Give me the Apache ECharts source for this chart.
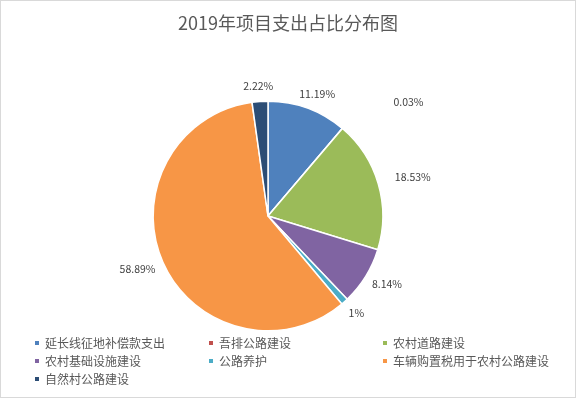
<!DOCTYPE html>
<html>
<head>
<meta charset="utf-8">
<script src="https://cdn.jsdelivr.net/npm/echarts@6/dist/echarts.min.js"></script>
<style>
    html, body { margin: 0; padding: 0; background: #fff; }
    #chart { width: 576px; height: 398px; box-sizing: border-box; border: 1px solid #d9d9d9; }
</style>
</head>
<body>
<div id="chart"></div>
<script>
    // 数据
    var categories = ['延长线征地补偿款支出', '吾排公路建设', '农村道路建设', '农村基础设施建设', '公路养护', '车辆购置税用于农村公路建设', '自然村公路建设'];
    var shares = [11.19, 0.03, 18.53, 8.14, 1, 58.89, 2.22];
    var colors = ['#4F81BD', '#C0504D', '#9BBB59', '#8064A2', '#4BACC6', '#F79646', '#2C4D75'];

    var fontFamily = '"Noto Sans CJK SC", "Microsoft YaHei", sans-serif';

    // 个别标签在原图中离饼图更远
    var labelLines = {
        '吾排公路建设': { length: 30, length2: 37 },
        '农村道路建设': { length: 18, length2: 0 }
    };

    var data = categories.map(function (name, i) {
        var item = { name: name, value: shares[i] };
        if (labelLines[name]) {
            item.labelLine = labelLines[name];
        }
        return item;
    });

    // 类似 Excel：标签框的近端贴着引导线末端
    function layoutLabel(params) {
        var pts = params.labelLinePoints;
        var rect = params.labelRect;
        if (!pts || pts.length < 2 || !rect) {
            return {};
        }
        var end = pts[pts.length - 1];
        var dx = pts[1][0] - pts[0][0];
        var dy = pts[1][1] - pts[0][1];
        var len = Math.sqrt(dx * dx + dy * dy) || 1;
        return {
            x: end[0] + dx / len * rect.width / 2,
            y: end[1] + dy / len * rect.height / 2,
            align: 'center',
            verticalAlign: 'middle'
        };
    }

    var chart = echarts.init(document.getElementById('chart'));
    chart.setOption({
        animation: false,
        color: colors,
        title: {
            text: '2019年项目支出占比分布图',
            left: 'center',
            top: 8,
            textStyle: { color: '#595959', fontSize: 18, fontWeight: 'normal', fontFamily: fontFamily }
        },
        legend: {
            left: 32,
            top: 333,
            width: 530,
            padding: 0,
            icon: 'rect',
            itemWidth: 6,
            itemHeight: 6,
            itemGap: 0,
            data: categories,
            textStyle: {
                color: '#595959',
                fontSize: 12,
                fontFamily: fontFamily,
                width: 162,
                lineHeight: 18,
                height: 18
            }
        },
        series: [
            {
                type: 'pie',
                radius: '58%',
                center: [267, 215],
                startAngle: 90,
                clockwise: true,
                avoidLabelOverlap: false,
                data: data,
                itemStyle: { borderColor: '#fff', borderWidth: 1.5 },
                label: {
                    show: true,
                    position: 'outside',
                    formatter: function (p) { return p.value + '%'; },
                    color: '#404040',
                    fontSize: 10.5,
                    fontFamily: fontFamily
                },
                labelLine: { show: false, length: 10, length2: 0 },
                labelLayout: layoutLabel
            }
        ]
    });
</script>
</body>
</html>
